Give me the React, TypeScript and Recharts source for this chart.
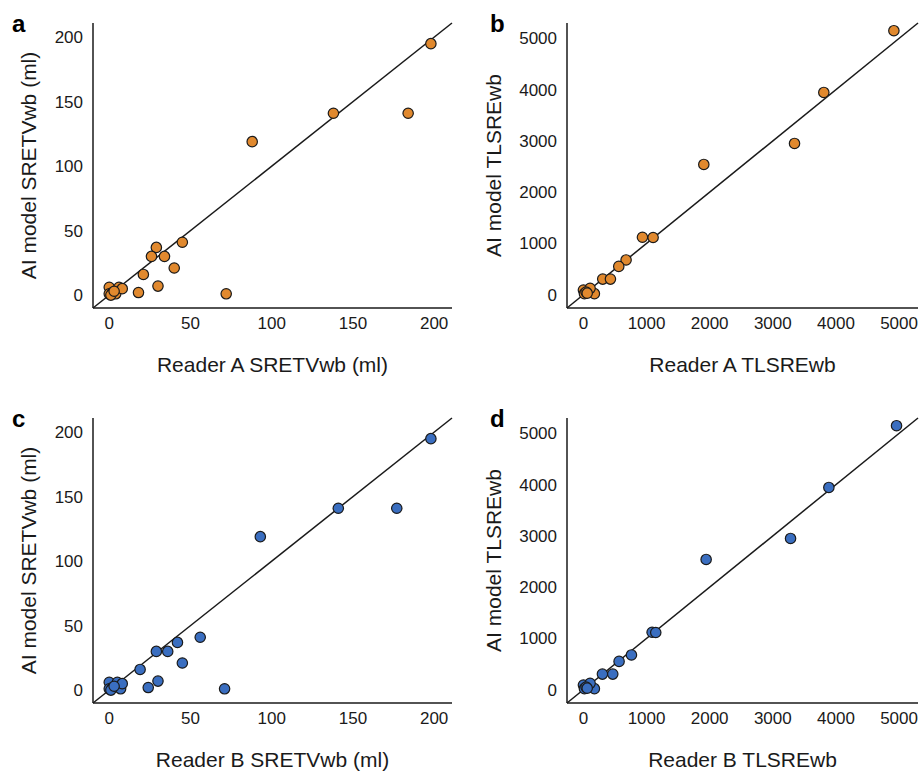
import React from "react";
import { ScatterChart, Scatter, XAxis, YAxis, ReferenceLine } from "recharts";

// SRETVwb (ml) — AI model is shared between panels a and c
const AI_SRETV = [195, 141, 141, 119, 41, 37, 30, 30, 21, 16, 7, 2, 1, 6, 1, 2, 1, 6, 5, 0, 3];
const READER_A_SRETV = [198, 138, 184, 88, 45, 29, 26, 34, 40, 21, 30, 18, 72, 0, 0, 2, 4, 6, 8, 1, 3];
const READER_B_SRETV = [198, 141, 177, 93, 56, 42, 29, 36, 45, 19, 30, 24, 71, 0, 0, 2, 7, 5, 8, 1, 3];

// TLSREwb — AI model shared between panels b and d
const AI_TLSRE = [5150, 3945, 2950, 2540, 1120, 1115, 677, 552, 304, 304, 20, 90, 124, 20, 50, 30];
const READER_A_TLSRE = [4918, 3808, 3344, 1907, 935, 1104, 676, 560, 306, 428, 174, 0, 106, 16, 42, 60];
const READER_B_TLSRE = [4960, 3888, 3281, 1944, 1088, 1146, 761, 565, 301, 465, 174, 0, 106, 16, 42, 60];

const SRETV_TICKS = [0, 50, 100, 150, 200];
const TLSRE_TICKS = [0, 1000, 2000, 3000, 4000, 5000];

const ORANGE = "#E1892E";
const BLUE = "#3A6EC0";
const INK = "#1a1a1a";
const FONT = '"Liberation Sans", Arial, Helvetica, sans-serif';

interface PanelProps {
  reader: number[];
  ai: number[];
  ticks: number[];
  domain: [number, number];
  xLabel: string;
  yLabel: string;
  color: string;
  yAxisWidth: number;
  marginRight: number;
  yLabelOffset: number;
}

function Panel({
  reader,
  ai,
  ticks,
  domain,
  xLabel,
  yLabel,
  color,
  yAxisWidth,
  marginRight,
  yLabelOffset,
}: PanelProps) {
  const data = reader.map((x, i) => ({ x, y: ai[i] }));
  const tickStyle = { fontSize: 17, fill: INK, fontFamily: FONT };

  return (
    <ScatterChart
      width={461}
      height={395}
      margin={{ top: 23, right: marginRight, bottom: 17, left: 0 }}
    >
      <XAxis
        type="number"
        dataKey="x"
        domain={domain}
        ticks={ticks}
        allowDataOverflow
        height={70}
        tickLine={false}
        tickSize={6}
        tickMargin={3}
        tick={tickStyle}
        axisLine={{ stroke: INK, strokeWidth: 1.5 }}
        label={{
          value: xLabel,
          position: "insideBottom",
          offset: 6,
          fontSize: 21,
          fill: INK,
          fontFamily: FONT,
        }}
      />
      <YAxis
        type="number"
        dataKey="y"
        domain={domain}
        ticks={ticks}
        allowDataOverflow
        width={yAxisWidth}
        tickLine={false}
        tickSize={6}
        tickMargin={4}
        tick={tickStyle}
        axisLine={{ stroke: INK, strokeWidth: 1.5 }}
        label={{
          value: yLabel,
          angle: -90,
          position: "insideLeft",
          offset: yLabelOffset,
          textAnchor: "middle",
          fontSize: 21,
          fill: INK,
          fontFamily: FONT,
        }}
      />
      <Scatter
        data={data}
        isAnimationActive={false}
        shape={(props: { cx?: number; cy?: number }) => (
          <circle
            cx={props.cx}
            cy={props.cy}
            r={5.2}
            fill={color}
            stroke={INK}
            strokeWidth={1.2}
          />
        )}
      />
      <ReferenceLine
        segment={[
          { x: domain[0], y: domain[0] },
          { x: domain[1], y: domain[1] },
        ]}
        stroke={INK}
        strokeWidth={1.5}
        ifOverflow="visible"
      />
    </ScatterChart>
  );
}

export default function App() {
  const cell = (left: number, top: number): React.CSSProperties => ({
    position: "absolute",
    left,
    top,
  });

  return (
    <div
      style={{
        position: "absolute",
        left: 0,
        top: 0,
        width: 922,
        height: 771,
        background: "#fff",
        fontFamily: FONT,
      }}
    >
      <div style={cell(0, 0)}>
        <Panel
          reader={READER_A_SRETV}
          ai={AI_SRETV}
          ticks={SRETV_TICKS}
          domain={[-10, 211]}
          xLabel="Reader A SRETVwb (ml)"
          yLabel="AI model SRETVwb (ml)"
          color={ORANGE}
          yAxisWidth={93}
          marginRight={9}
          yLabelOffset={29}
        />
      </div>
      <div style={cell(461, 0)}>
        <Panel
          reader={READER_A_TLSRE}
          ai={AI_TLSRE}
          ticks={TLSRE_TICKS}
          domain={[-260, 5300]}
          xLabel="Reader A TLSREwb"
          yLabel="AI model TLSREwb"
          color={ORANGE}
          yAxisWidth={106}
          marginRight={4}
          yLabelOffset={33}
        />
      </div>
      <div style={cell(0, 395)}>
        <Panel
          reader={READER_B_SRETV}
          ai={AI_SRETV}
          ticks={SRETV_TICKS}
          domain={[-10, 211]}
          xLabel="Reader B SRETVwb (ml)"
          yLabel="AI model SRETVwb (ml)"
          color={BLUE}
          yAxisWidth={93}
          marginRight={9}
          yLabelOffset={29}
        />
      </div>
      <div style={cell(461, 395)}>
        <Panel
          reader={READER_B_TLSRE}
          ai={AI_TLSRE}
          ticks={TLSRE_TICKS}
          domain={[-260, 5300]}
          xLabel="Reader B TLSREwb"
          yLabel="AI model TLSREwb"
          color={BLUE}
          yAxisWidth={106}
          marginRight={4}
          yLabelOffset={33}
        />
      </div>
      {/* panel letters */}
      <svg
        width={922}
        height={771}
        style={{ position: "absolute", left: 0, top: 0, pointerEvents: "none" }}
      >
        <g fontFamily={FONT} fontWeight="bold" fontSize={24} fill="#000">
          <text x={12} y={32}>a</text>
          <text x={490} y={32}>b</text>
          <text x={12} y={427}>c</text>
          <text x={490} y={427}>d</text>
        </g>
      </svg>
    </div>
  );
}
